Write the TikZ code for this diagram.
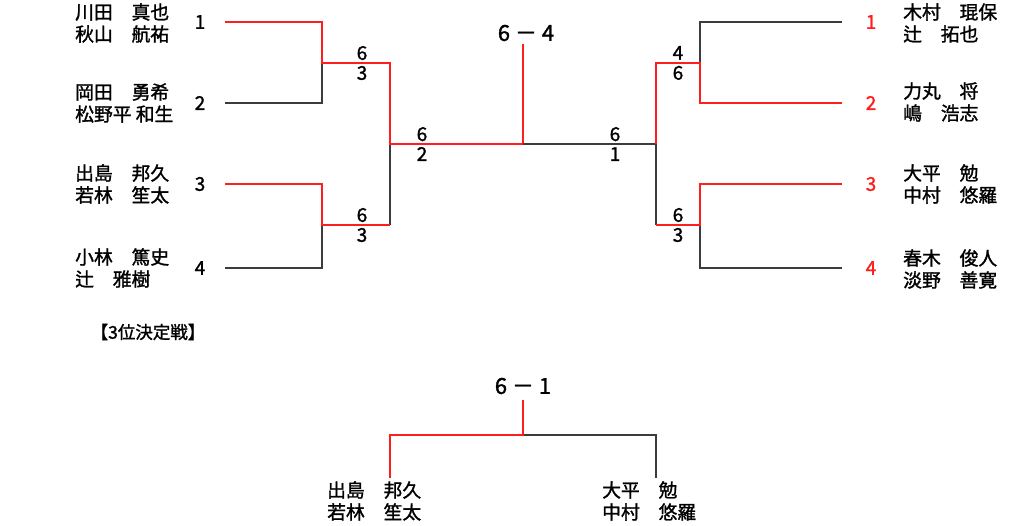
\documentclass[tikz,border=0pt]{standalone}
\usepackage{fontspec}
\newfontfamily\jp[FakeBold=1.4]{Noto Sans CJK JP}
\definecolor{wred}{RGB}{255,30,30}
\definecolor{wblk}{RGB}{60,60,60}
\tikzset{
  win/.style={draw=wred,line width=1.4pt},
  lose/.style={draw=wblk,line width=1.4pt},
  names/.style={anchor=west,align=left,inner sep=0pt,font=\jp\fontsize{18.8}{22}\selectfont},
  seed/.style={inner sep=0pt,font=\jp\fontsize{19}{22}\selectfont},
  rseed/.style={seed,text=wred},
  score/.style={inner sep=0pt,align=center,font=\jp\fontsize{19}{20}\selectfont},
  final/.style={inner sep=0pt,font=\jp\fontsize{22}{24}\selectfont},
  title/.style={inner sep=0pt,font=\jp\fontsize{17.5}{18}\selectfont}
}
\begin{document}
\begin{tikzpicture}[x=1pt,y=-1pt]
\path[use as bounding box] (0,0) rectangle (1024,526);
% coordinates
\coordinate (L1) at (225,22);
\coordinate (L2) at (225,103);
\coordinate (L3) at (225,184);
\coordinate (L4) at (225,268);
\coordinate (A1) at (322,63);
\coordinate (A2) at (322,225);
\coordinate (B) at (390,144);
\coordinate (Bd) at (390,225);
\coordinate (C) at (523,144);
\coordinate (T) at (523,44);
\coordinate (D) at (656,144);
\coordinate (Dd) at (656,225);
\coordinate (E1) at (700,63);
\coordinate (E2) at (700,225);
\coordinate (R1) at (842,22);
\coordinate (R2) at (842,103);
\coordinate (R3) at (842,184);
\coordinate (R4) at (842,268);
% left bracket
\draw[lose] (L2) -| (A1);
\draw[lose] (L4) -| (A2);
\draw[lose] (Bd) -- (B);
\draw[win] (L1) -| (A1) -| (B) -- (C) -- (T);
\draw[win] (L3) -| (A2) -- (Bd);
% right bracket
\draw[lose] (C) -- (D);
\draw[lose] (R1) -| (E1);
\draw[lose] (D) -- (Dd);
\draw[lose] (R4) -| (E2);
\draw[win] (D) |- (E1) |- (R2);
\draw[win] (Dd) -- (E2) |- (R3);
% left names
\node[names] (n1) at (75,23) {川田　真也\\秋山　航祐};
\node[names] (n2) at (75,103) {岡田　勇希\\松野平 和生};
\node[names] (n3) at (75,184) {出島　邦久\\若林　笙太};
\node[names] (n4) at (75,268) {小林　篤史\\辻　雅樹};
\node[seed] (s1) at (200,22) {1};
\node[seed] (s2) at (200,103) {2};
\node[seed] (s3) at (200,184) {3};
\node[seed] (s4) at (200,268) {4};
% right names
\node[names] (m1) at (903,23) {木村　琨保\\辻　拓也};
\node[names] (m2) at (903,102) {力丸　将\\嶋　浩志};
\node[names] (m3) at (903,184) {大平　勉\\中村　悠羅};
\node[names] (m4) at (903,269) {春木　俊人\\淡野　善寛};
\node[rseed] (t1) at (871,22) {1};
\node[rseed] (t2) at (871,103) {2};
\node[rseed] (t3) at (871,184) {3};
\node[rseed] (t4) at (871,268) {4};
% scores
\node[score] (c1) at (362,63) {6\\3};
\node[score] (c2) at (362,225) {6\\3};
\node[score] (c3) at (422,144) {6\\2};
\node[score] (c4) at (615,144) {6\\1};
\node[score] (c5) at (678,63) {4\\6};
\node[score] (c6) at (678,225) {6\\3};
\node[final] (f1) at (526,33) {6 － 4};
% third place
\node[title] (ti) at (148,332) {【3位決定戦】};
\node[final] (f2) at (523,386) {6 － 1};
\coordinate (BL) at (390,478);
\coordinate (BC) at (523,435);
\coordinate (BT) at (523,400);
\coordinate (BR) at (656,478);
\draw[lose] (BC) -| (BR);
\draw[win] (BL) |- (BC) -- (BT);
\node[names] (p1) at (327,501) {出島　邦久\\若林　笙太};
\node[names] (p2) at (602,501) {大平　勉\\中村　悠羅};
\end{tikzpicture}
\end{document}
